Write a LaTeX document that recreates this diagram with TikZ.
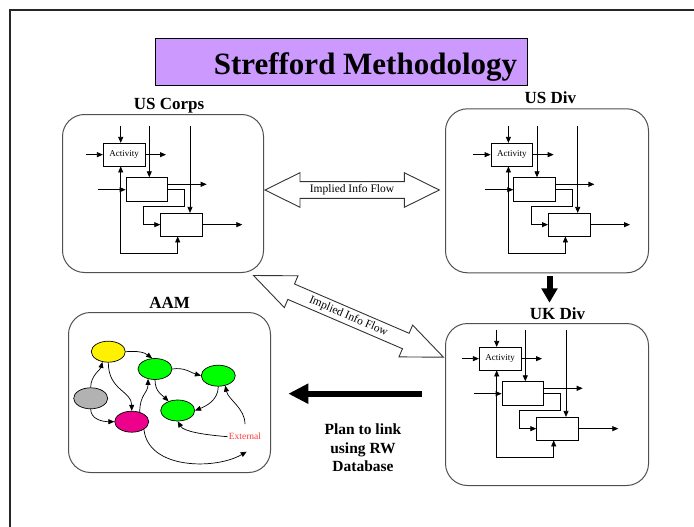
\documentclass[tikz,border=0pt]{standalone}
\usepackage{fontspec}
\setmainfont{Liberation Serif}
\usetikzlibrary{arrows.meta,shapes.geometric}

\definecolor{titlefill}{HTML}{CC99FF}
\definecolor{boxline}{HTML}{505050}
\definecolor{extred}{HTML}{FF3838}
\definecolor{nodegrey}{HTML}{B2B2B2}

\tikzset{
  frameline/.style={draw=black!85, line width=1.6pt},
  panel/.style={draw=boxline, line width=1pt, rounded corners=22pt, inner sep=0pt, anchor=north west},
  paneltitle/.style={font=\fontsize{17}{20}\selectfont\bfseries, anchor=base, inner sep=0pt},
  actbox/.style={draw=black, line width=0.8pt, fill=white, inner sep=0pt, font=\fontsize{9}{10}\selectfont},
  arr/.style={draw=black, line width=0.8pt, -{Triangle[length=6pt,width=5pt]}},
  arrboth/.style={draw=black, line width=0.8pt, {Triangle[length=6pt,width=5pt]}-{Triangle[length=6pt,width=5pt]}},
  bubble/.style={ellipse, draw=black, line width=0.7pt, minimum width=34pt, minimum height=21pt, inner sep=0pt},
  link/.style={draw=black, line width=0.7pt, -{Triangle[length=6pt,width=5pt]}},
  flowshape/.style={draw=black!80, line width=0.9pt, fill=white, line join=miter},
  flowlabel/.style={font=\fontsize{11.5}{13}\selectfont, inner sep=0pt},
  bigarrow/.style={draw=black, line width=6pt, -{Triangle[length=20pt,width=19pt]}},
  downarrow/.style={draw=black, line width=6pt, -{Triangle[length=14.4pt,width=15.6pt]}},
  % an activity chain: three boxes with inputs, outputs, controls and a loop
  idef/.pic={
    \node[actbox, minimum width=41.7pt, minimum height=22.7pt] (-a) at (20.85,11.35) {Activity};
    \node[actbox, minimum width=41.3pt, minimum height=24pt] (-b) at (43.35,46.4) {};
    \node[actbox, minimum width=41.6pt, minimum height=22.7pt] (-c) at (78.2,81.35) {};
    \coordinate (-ti1) at (17.4,-17.6);
    \coordinate (-ti2) at (46,-17.6);
    \coordinate (-ti3) at (86.7,-17.6);
    \coordinate (-li1) at (-17.6,11.35);
    \coordinate (-li2) at (-5.6,46.4);
    \coordinate (-o1) at (62.7,11.35);
    \coordinate (-o2) at (103.4,41);
    \coordinate (-o3) at (139,81.35);
    \coordinate (-k1) at (81,63.4);
    \coordinate (-k2) at (40,63.4);
    \coordinate (-k3) at (17.4,110);
    \coordinate (-k4) at (74.4,110);
    \draw[arr] (-ti1) -- (-ti1 |- -a.north);
    \draw[arr] (-li1) -- (-a.west);
    \draw[arr] (-a.east) -- (-o1);
    \draw[arr] (-ti2) -- (-ti2 |- -b.north);
    \draw[arr] (-li2) -- (-b.west);
    \draw[arr] (-o2 -| -b.east) -- (-o2);
    \draw[arr] (-b.east) -| (-k1) -- (-k2) |- (-c.west);
    \draw[arr] (-ti3) -- (-ti3 |- -c.north);
    \draw[arr] (-c.east) -- (-o3);
    \draw[arrboth] (-k3 |- -a.south) -- (-k3) -- (-k4) -- (-k4 |- -c.south);
  }
}

% outlined two-headed arrow: #1 = length, #2 = head length
\newcommand\twowayarrow[2]{%
  \draw[flowshape] (0,0) -- (#2,-17.3) -- (#2,-8.4) -- ({#1-#2},-8.4) -- ({#1-#2},-17.3)
    -- (#1,0) -- ({#1-#2},17.3) -- ({#1-#2},8.4) -- (#2,8.4) -- (#2,17.3) -- cycle;}

\begin{document}
\begin{tikzpicture}[x=1pt,y=-1pt]
\useasboundingbox (0,0) rectangle (694,527);

% page frame
\draw[frameline] (10,527) -- (10,10) -- (694,10);

% title
\node[draw=black, line width=1pt, fill=titlefill, minimum width=372pt, minimum height=46.7pt,
      inner sep=0pt, anchor=north west] (titlebox) at (155,38.3) {};
\node[font=\fontsize{31}{36}\selectfont\bfseries, anchor=base, inner sep=0pt] (titletext) at (365.5,75) {Strefford Methodology};

% panels
\node[panel, minimum width=201pt, minimum height=158pt] (corps) at (62,114) {};
\node[paneltitle] (corpsT) at (169,110) {US Corps};
\node[panel, minimum width=203pt, minimum height=164pt] (usdiv) at (445,108.3) {};
\node[paneltitle] (usdivT) at (550.3,103.3) {US Div};
\node[panel, minimum width=203pt, minimum height=162pt] (ukdiv) at (445,323) {};
\node[paneltitle] (ukdivT) at (557.5,319.3) {UK Div};
\node[panel, minimum width=202pt, minimum height=160pt] (aam) at (68,312) {};
\node[paneltitle] (aamT) at (169.7,308.3) {AAM};

% activity chains
\pic (pc) at (103.3,143.3) {idef};
\pic (pd) at (491,143.3) {idef};
\pic (pk) at (479.3,347.3) {idef};

% implied information flows
\begin{scope}[shift={(265,190)}]
  \twowayarrow{174.3}{35}
\end{scope}
\node[flowlabel] (flowA) at (352,190) {Implied Info Flow};
\begin{scope}[shift={(253.5,275.5)}, rotate=-23.27]
  \twowayarrow{206.8}{41}
\end{scope}
\node[flowlabel, rotate=-23.27] (flowB) at (348.5,316.5) {Implied Info Flow};

% US Div to UK Div
\coordinate (dtop) at (549.5,276);
\coordinate (dtip) at (549.5,302.7);
\draw[downarrow] (dtop) -- (dtip);

% planned link
\coordinate (ptail) at (421.7,393.7);
\coordinate (ptip) at (288.3,393.7);
\draw[bigarrow] (ptail) -- (ptip);
\node[font=\fontsize{15.5}{18.5}\selectfont\bfseries, align=center, inner sep=0pt] (plan) at (363,447.7)
  {Plan to link\\using RW\\Database};

% AAM model
\node[bubble, fill=yellow] (yel) at (108.3,351.7) {};
\node[bubble, fill=nodegrey] (gry) at (90.7,398.3) {};
\node[bubble, fill=magenta] (mag) at (131.7,421.7) {};
\node[bubble, fill=green] (g1) at (155,369) {};
\node[bubble, fill=green] (g2) at (218.3,375.7) {};
\node[bubble, fill=green] (g3) at (177.7,410.5) {};
\node[text=extred, font=\fontsize{9.5}{11}\selectfont, inner sep=1pt] (extn) at (245,436.7) {External};
\coordinate (tail) at (246.7,451.7);

\draw[link] (yel.east) .. controls +(12,-1) and +(-8,-6) .. (g1.105);
\draw[link] (gry.north) .. controls +(0,-12) and +(-2,8) .. (yel.240);
\draw[link] (gry.south) .. controls +(0,10) and +(-12,0) .. (mag.west);
\draw[link] (yel.south) .. controls +(0,28) and +(0,-20) .. (mag.north);
\draw[link] (mag.50) .. controls +(0,-18) and +(0,14) .. (g1.235);
\draw[link] (g1.east) .. controls +(12,-2) and +(-10,-3) .. (g2.west);
\draw[link] (g1.south) .. controls +(0,12) and +(-6,-6) .. (g3.135);
\draw[link] (g2.south) .. controls +(0,14) and +(10,-4) .. (g3.east);
\draw[link] ([yshift=8pt]extn.north) .. controls +(0,-16) and +(3,14) .. (g2.305);
\draw[link] (extn.west) .. controls +(-25,-2) and +(6,10) .. (g3.south);
\draw[link] (mag.south east) .. controls +(4,40) and +(-31.7,18.3) .. (tail);
\end{tikzpicture}
\end{document}
